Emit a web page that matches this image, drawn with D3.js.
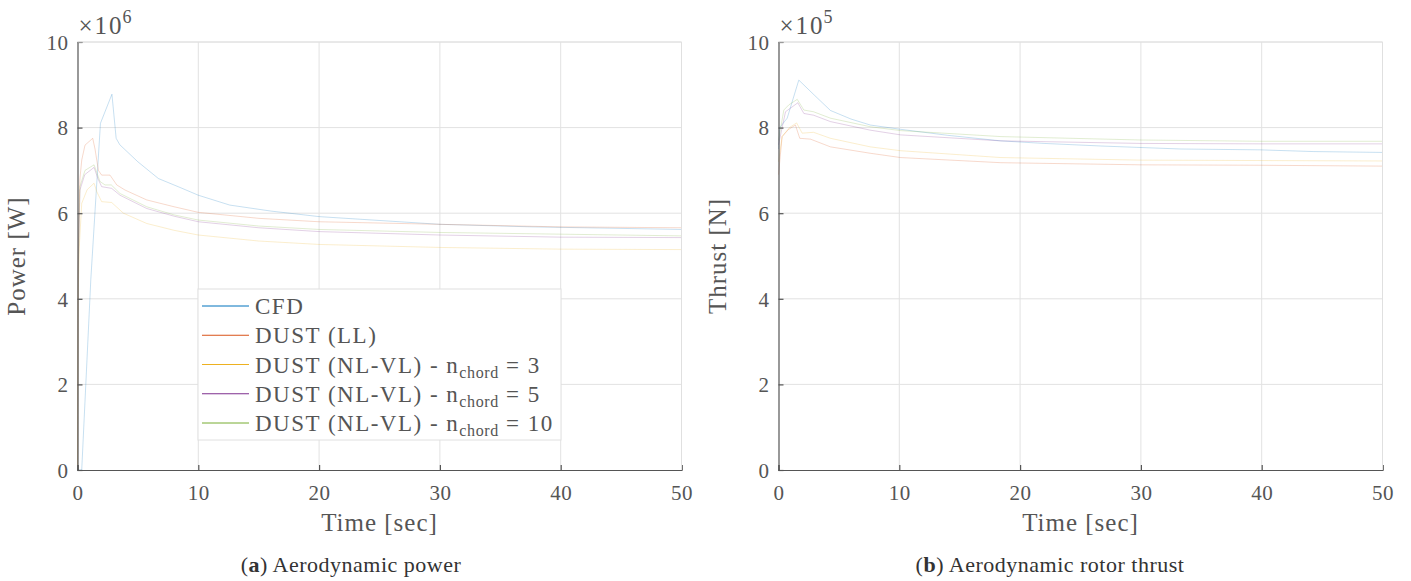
<!DOCTYPE html>
<html>
<head>
<meta charset="utf-8">
<script src="https://cdn.jsdelivr.net/npm/d3@7"></script>
<style>
  html, body { margin: 0; padding: 0; background: #fff; }
</style>
</head>
<body>
<svg id="fig" width="1411" height="581"></svg>
<script>
// Time axis ticks and value ticks shared by both panels
const timeTicks = [0, 10, 20, 30, 40, 50];
const valueTicks = [0, 2, 4, 6, 8, 10];

const seriesNames = ["CFD", "DUST (LL)", "DUST (NL-VL) - n", "DUST (NL-VL) - n", "DUST (NL-VL) - n"];
const seriesSub = [null, null, "chord", "chord", "chord"];
const seriesSuffix = ["", "", " = 3", " = 5", " = 10"];
const seriesColors = ["#0072BD", "#D95319", "#EDB120", "#7E2F8E", "#77AC30"];

// Aerodynamic power, [time s, power x1e6 W]
const powerCFD = [[0,0],[0.35,0],[1.1,4.44],[1.9,8.1],[2.85,8.78],[3.2,7.75],[3.5,7.6],[5,7.2],[6.7,6.81],[8.5,6.6],[10,6.42],[12.6,6.19],[16,6.05],[20,5.92],[25,5.83],[30,5.74],[37.7,5.68],[44,5.65],[50,5.62]];
const powerLL = [[0,0],[0.05,5.0],[0.2,6.8],[0.35,7.24],[0.62,7.59],[1.26,7.75],[1.45,7.5],[1.73,7.0],[2.0,6.89],[2.69,6.89],[3.25,6.66],[3.94,6.54],[5.73,6.31],[8,6.15],[10,6.02],[15,5.88],[20,5.8],[30,5.74],[40,5.68],[50,5.66]];
const powerNL3 = [[0,0],[0.05,4.0],[0.15,5.22],[0.35,6.23],[0.8,6.55],[1.37,6.7],[1.6,6.5],[2.0,6.27],[2.83,6.25],[3.8,6.0],[5.73,5.76],[8,5.6],[10,5.49],[15,5.35],[20,5.27],[30,5.2],[40,5.16],[50,5.15]];
const powerNL5 = [[0,0],[0.05,4.5],[0.2,6.54],[0.6,6.9],[1.37,7.07],[1.7,6.8],[2.0,6.62],[2.83,6.58],[3.52,6.42],[5.73,6.11],[8,5.93],[10,5.8],[15,5.66],[20,5.57],[30,5.49],[40,5.44],[50,5.43]];
const powerNL10 = [[0,0],[0.05,4.6],[0.2,6.62],[0.62,7.0],[1.37,7.13],[1.6,6.95],[1.86,6.74],[2.28,6.66],[2.8,6.66],[3.52,6.46],[5.73,6.15],[8,5.96],[10,5.84],[15,5.7],[20,5.62],[30,5.55],[40,5.51],[50,5.47]];

// Aerodynamic rotor thrust, [time s, thrust x1e5 N]
const thrustCFD = [[0,7.5],[0.1,8.0],[0.72,8.22],[1.68,9.11],[3,8.75],[4.3,8.4],[6,8.2],[7.6,8.06],[10.1,7.96],[14,7.82],[18.4,7.69],[22,7.63],[26.7,7.57],[33.3,7.5],[39.9,7.48],[44.3,7.44],[50,7.42]];
const thrustLL = [[0,6.9],[0.3,7.79],[0.8,7.95],[1.4,8.06],[1.76,7.75],[2.65,7.73],[4.3,7.55],[7.6,7.4],[10.1,7.3],[18.4,7.18],[30,7.13],[40,7.12],[50,7.1]];
const thrustNL3 = [[0,7.2],[0.3,7.79],[0.9,8.0],[1.5,8.11],[1.96,7.87],[2.9,7.89],[4.3,7.75],[7.6,7.55],[10.1,7.46],[18.4,7.3],[30,7.24],[40,7.23],[50,7.22]];
const thrustNL5 = [[0,7.6],[0.58,8.37],[1.6,8.58],[2.1,8.33],[2.9,8.29],[4.3,8.14],[7.6,7.94],[10.1,7.83],[18.4,7.69],[30,7.63],[40,7.62],[50,7.62]];
const thrustNL10 = [[0,7.7],[0.44,8.41],[0.85,8.53],[1.55,8.66],[2.1,8.41],[2.9,8.37],[4.3,8.22],[7.6,8.02],[10.1,7.93],[18.4,7.79],[30,7.71],[40,7.68],[50,7.68]];

const SERIF = "'Liberation Serif', 'DejaVu Serif', serif";
const svg = d3.select("#fig");

function drawPanel(opts) {
  const { left, right, top, bottom, series, yLabel, exponent, xLabel, captionTag, captionText, captionX, legend } = opts;
  const x = d3.scaleLinear().domain([0, 50]).range([left, right]);
  const y = d3.scaleLinear().domain([0, 10]).range([bottom, top]);
  const g = svg.append("g");

  // grid
  g.append("g").selectAll("line").data(timeTicks.slice(1)).join("line")
    .attr("x1", d => x(d)).attr("x2", d => x(d)).attr("y1", top).attr("y2", bottom)
    .attr("stroke", "#e2e2e2").attr("stroke-width", 1);
  g.append("g").selectAll("line").data(valueTicks.slice(1)).join("line")
    .attr("x1", left).attr("x2", right).attr("y1", d => y(d)).attr("y2", d => y(d))
    .attr("stroke", "#e2e2e2").attr("stroke-width", 1);

  // data lines
  const line = d3.line().x(d => x(d[0])).y(d => y(d[1]));
  series.forEach((s, i) => {
    g.append("path").datum(s).attr("d", line)
      .attr("fill", "none").attr("stroke", seriesColors[i])
      .attr("stroke-opacity", 0.22).attr("stroke-width", 1);
  });

  // axes
  const xAxis = d3.axisBottom(x).tickValues(timeTicks).tickSize(-5).tickPadding(14).tickFormat(d3.format("d"));
  const yAxis = d3.axisLeft(y).tickValues(valueTicks).tickSize(-5).tickPadding(9).tickFormat(d3.format("d"));
  const gx = g.append("g").attr("transform", `translate(0,${bottom})`).call(xAxis);
  const gy = g.append("g").attr("transform", `translate(${left},0)`).call(yAxis);
  [gx, gy].forEach(a => {
    a.select(".domain").attr("stroke", "#555").attr("stroke-width", 1.2);
    a.selectAll(".tick line").attr("stroke", "#555").attr("stroke-width", 1.2);
    a.selectAll(".tick text").attr("font-size", 21).attr("fill", "#555").attr("letter-spacing", 0.5);
  });
  gx.selectAll(".tick text").attr("dy", "0.75em");
  gy.selectAll(".tick text").attr("dy", "0.35em");

  // upper and right box edges
  g.append("line").attr("x1", left).attr("x2", right).attr("y1", top).attr("y2", top)
    .attr("stroke", "#e0e0e0").attr("stroke-width", 1);
  g.append("line").attr("x1", right).attr("x2", right).attr("y1", top).attr("y2", bottom)
    .attr("stroke", "#e0e0e0").attr("stroke-width", 1);

  // exponent annotation
  const ex = g.append("text").attr("x", left + 1).attr("y", 34).attr("font-size", 25).attr("fill", "#555");
  ex.append("tspan").attr("letter-spacing", 2).text("×10");
  ex.append("tspan").attr("font-size", 18).attr("dy", -11).attr("dx", -1).text(exponent);

  // axis labels
  g.append("text").attr("x", (left + right) / 2).attr("y", 531).attr("text-anchor", "middle")
    .attr("font-size", 25).attr("fill", "#555").attr("letter-spacing", 1).text(xLabel);
  g.append("text").attr("transform", `translate(${left - 53},${(top + bottom) / 2}) rotate(-90)`)
    .attr("text-anchor", "middle").attr("font-size", 25).attr("fill", "#555").attr("letter-spacing", 1).text(yLabel);

  // caption
  const cap = g.append("text").attr("x", captionX).attr("y", 572).attr("text-anchor", "middle").attr("font-size", 22)
    .attr("fill", "#333").attr("letter-spacing", 0.5);
  cap.append("tspan").text("(");
  cap.append("tspan").attr("font-weight", "bold").text(captionTag);
  cap.append("tspan").text(") " + captionText);

  if (legend) {
    const lg = g.append("g");
    const lx = 198, ly = 289, lw = 363, lh = 151;
    lg.append("rect").attr("x", lx).attr("y", ly).attr("width", lw).attr("height", lh)
      .attr("fill", "#fff").attr("stroke", "#e0e0e0").attr("stroke-width", 1);
    const rowY = d3.scaleLinear().domain([0, 4]).range([ly + 17, ly + 134]);
    seriesNames.forEach((name, i) => {
      const yy = rowY(i);
      lg.append("line").attr("x1", lx + 4).attr("x2", lx + 51).attr("y1", yy).attr("y2", yy)
        .attr("stroke", seriesColors[i]).attr("stroke-width", 1);
      const t = lg.append("text").attr("x", lx + 57).attr("y", yy + 8).attr("font-size", 23)
        .attr("fill", "#555").attr("letter-spacing", 1.5);
      t.append("tspan").text(name);
      if (seriesSub[i]) {
        t.append("tspan").attr("font-size", 16).attr("dy", 5).attr("letter-spacing", 0.6).text(seriesSub[i]);
        t.append("tspan").attr("dy", -5).text(seriesSuffix[i]);
      }
    });
  }
}

drawPanel({
  left: 77.5, right: 681.5, top: 42, bottom: 470,
  series: [powerCFD, powerLL, powerNL3, powerNL5, powerNL10],
  yLabel: "Power [W]", exponent: "6", xLabel: "Time [sec]",
  captionTag: "a", captionText: "Aerodynamic power", captionX: 351, legend: true
});

drawPanel({
  left: 778.5, right: 1382.5, top: 42, bottom: 470,
  series: [thrustCFD, thrustLL, thrustNL3, thrustNL5, thrustNL10],
  yLabel: "Thrust [N]", exponent: "5", xLabel: "Time [sec]",
  captionTag: "b", captionText: "Aerodynamic rotor thrust", captionX: 1050, legend: false
});

// one serif face for every label on the figure
svg.selectAll("text").style("font-family", SERIF);
</script>
</body>
</html>
